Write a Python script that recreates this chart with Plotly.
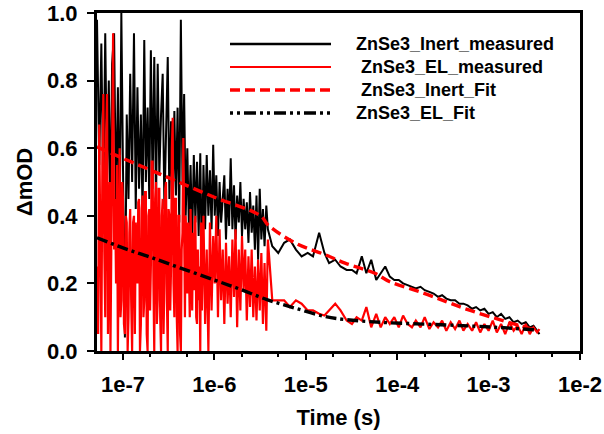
import plotly.graph_objects as go

# ---------------- data ----------------
# dense early-time region of the Inert measurement, times in ns
inert_dense_t_ns = [52, 55, 58, 61, 64, 67, 70, 73, 76, 80, 84, 88, 92, 96, 100, 105, 110, 115, 120, 126,
                    132, 138, 144, 150, 157, 164, 171, 178, 186, 194, 202, 211, 220, 230, 240, 250, 261,
                    272, 284, 296, 309, 322, 336, 350, 365, 380, 396, 413, 430, 448, 467, 486, 506, 527,
                    549, 572, 596, 620, 646, 673, 701, 730, 760, 792, 825, 860, 895, 932, 971, 1010, 1050,
                    1095, 1140, 1185, 1235, 1285, 1340, 1395, 1450, 1510, 1575, 1640, 1705, 1775, 1850,
                    1925, 2005, 2090, 2175, 2265, 2360, 2455, 2560, 2665, 2775, 2890, 3010, 3135, 3265,
                    3400, 3540, 3700, 3850]
inert_dense = [0.98, 0.55, 0.91, 0.45, 0.94, 0.50, 0.80, 0.38, 0.85, 0.94, 0.42, 0.78, 0.35, 1.00, 0.55,
               0.04, 0.70, 0.45, 0.82, 0.50, 0.94, 0.42, 0.78, 0.48, 0.70, 0.40, 0.92, 0.50, 0.72, 0.45,
               0.89, 0.48, 0.87, 0.44, 0.85, 0.52, 0.70, 0.82, 0.42, 0.66, 0.87, 0.45, 0.68, 0.40, 0.71,
               0.46, 0.72, 0.38, 0.98, 0.50, 0.76, 0.40, 0.60, 0.36, 0.55, 0.33, 0.58, 0.38, 0.56, 0.34,
               0.585, 0.25, 0.55, 0.36, 0.58, 0.40, 0.535, 0.36, 0.61, 0.40, 0.52, 0.34, 0.50, 0.38, 0.47,
               0.52, 0.33, 0.48, 0.37, 0.57, 0.36, 0.49, 0.33, 0.46, 0.38, 0.50, 0.34, 0.45, 0.36, 0.44,
               0.32, 0.47, 0.35, 0.43, 0.30, 0.46, 0.27, 0.48, 0.33, 0.42, 0.31, 0.43, 0.36]

# dense early-time region of the EL measurement, times in ns
el_dense_t_ns = [52, 53.5, 55, 56.5, 58, 59.5, 61, 62.5, 64, 65.5, 67, 68.5, 70, 71.5, 73, 74.5, 76, 78,
                 80, 82, 84, 86, 88, 90, 92, 94, 96, 98, 100, 102.5, 105, 107.5, 110, 112.5, 115, 117.5,
                 120, 123, 126, 129, 132, 135, 138, 141, 144, 147, 150, 153.5, 157, 160.5, 164, 167.5,
                 171, 174.5, 178, 182, 186, 190, 194, 198, 202, 206, 211, 215.5, 220, 225, 230, 235,
                 240, 245, 250, 255.5, 261, 266.5, 272, 278, 284, 290, 296, 302.5, 309, 315.5, 322, 329,
                 336, 343, 350, 357.5, 365, 372.5, 380, 388, 396, 404.5, 413, 421.5, 430, 439, 448,
                 457.5, 467, 476.5, 486, 496, 506, 516.5, 527, 538, 549, 560.5, 572, 584, 596, 608, 620,
                 633, 646, 659.5, 673, 687, 701, 715.5, 730, 760, 792, 825, 860, 895, 932, 971, 1010,
                 1050, 1095, 1140, 1185, 1235, 1285, 1340, 1395, 1450, 1510, 1575, 1640, 1705, 1775,
                 1850, 1925, 2005, 2090, 2175, 2265, 2360, 2455, 2560, 2665, 2775, 2890, 3010, 3135,
                 3265, 3400, 3540, 3700, 3850]
el_dense = [0.25, 0.05, 0.67, 0.20, 0.00, 0.55, 0.76, 0.30, 0.10, 0.62, 0.76, 0.05, 0.30, 0.50, 0.00,
            0.35, 0.55, 0.94, 0.30, 0.45, 0.20, 0.55, 0.00, 0.35, 0.60, 0.10, 0.15, 0.50, 0.45, 0.08,
            0.05, 0.40, 0.38, 0.00, 0.10, 0.35, 0.42, 0.15, 0.00, 0.38, 0.40, 0.05, 0.38, 0.25, 0.20,
            0.44, 0.45, 0.00, 0.08, 0.42, 0.46, 0.10, 0.15, 0.47, 0.47, 0.05, 0.00, 0.40, 0.42, 0.12,
            0.25, 0.56, 0.56, 0.20, 0.00, 0.45, 0.50, 0.08, 0.15, 0.48, 0.48, 0.10, 0.00, 0.40, 0.45,
            0.05, 0.20, 0.48, 0.50, 0.15, 0.00, 0.42, 0.40, 0.12, 0.25, 0.60, 0.69, 0.20, 0.10, 0.45,
            0.45, 0.10, 0.00, 0.40, 0.40, 0.05, 0.00, 0.30, 0.35, 0.63, 0.20, 0.10, 0.40, 0.30, 0.17,
            0.38, 0.22, 0.10, 0.42, 0.30, 0.12, 0.35, 0.18, 0.38, 0.40, 0.10, 0.08, 0.30, 0.15, 0.25,
            0.00, 0.38, 0.12, 0.40, 0.08, 0.30, 0.00, 0.38, 0.12, 0.34, 0.20, 0.40, 0.10, 0.36, 0.15,
            0.30, 0.08, 0.32, 0.14, 0.28, 0.10, 0.33, 0.16, 0.36, 0.07, 0.30, 0.12, 0.34, 0.18, 0.30,
            0.09, 0.28, 0.13, 0.30, 0.10, 0.25, 0.09, 0.27, 0.12, 0.29, 0.08, 0.26, 0.06, 0.33]

# late-time region, times in s
tail_t = [4.3e-6, 5e-6, 5.8e-6, 6.7e-6, 7.8e-6, 9e-6, 1.05e-5, 1.2e-5, 1.4e-5, 1.6e-5, 1.8e-5, 2.1e-5,
          2.4e-5, 2.8e-5, 3.2e-5, 3.6e-5, 4.1e-5, 4.6e-5, 5.2e-5, 5.9e-5, 6.6e-5, 7.4e-5, 8.3e-5,
          9.3e-5, 1.04e-4, 1.16e-4, 1.3e-4, 1.45e-4, 1.6e-4, 1.8e-4, 2.0e-4, 2.25e-4, 2.5e-4, 2.8e-4,
          3.1e-4, 3.45e-4, 3.85e-4, 4.3e-4, 4.8e-4, 5.3e-4, 5.9e-4, 6.6e-4, 7.3e-4, 8.1e-4, 9e-4,
          1.0e-3, 1.11e-3, 1.23e-3, 1.37e-3, 1.52e-3, 1.69e-3, 1.88e-3, 2.08e-3, 2.3e-3, 2.55e-3,
          2.82e-3, 3.1e-3, 3.4e-3, 3.6e-3]

inert_tail = [0.31, 0.29, 0.32, 0.33, 0.30, 0.28, 0.29, 0.28, 0.35, 0.29, 0.26, 0.27, 0.25, 0.24, 0.24,
              0.23, 0.28, 0.23, 0.27, 0.21, 0.23, 0.25, 0.22, 0.21, 0.21, 0.20, 0.195, 0.19, 0.185,
              0.19, 0.18, 0.175, 0.17, 0.16, 0.165, 0.155, 0.15, 0.15, 0.14, 0.14, 0.135, 0.125, 0.13,
              0.12, 0.125, 0.11, 0.115, 0.10, 0.11, 0.095, 0.10, 0.085, 0.09, 0.08, 0.085, 0.07, 0.075,
              0.06, 0.05]

el_tail = [0.15, 0.15, 0.15, 0.13, 0.15, 0.14, 0.12, 0.12, 0.11, 0.105, 0.12, 0.14, 0.12, 0.09, 0.08,
           0.10, 0.09, 0.13, 0.07, 0.11, 0.07, 0.10, 0.08, 0.10, 0.07, 0.105, 0.08, 0.07, 0.09, 0.07,
           0.10, 0.065, 0.085, 0.07, 0.09, 0.06, 0.085, 0.065, 0.09, 0.06, 0.08, 0.06, 0.085, 0.055,
           0.08, 0.06, 0.09, 0.055, 0.08, 0.05, 0.085, 0.06, 0.075, 0.05, 0.08, 0.05, 0.07, 0.055, 0.065]

# fits
inert_fit_t = [5.2e-8, 1e-7, 3e-7, 1e-6, 3.2e-6, 3.86e-6, 7.6e-6, 1.62e-5, 2.69e-5, 5.7e-5, 8.3e-5,
               1.78e-4, 3.5e-4, 6.3e-4, 1.24e-3, 2.2e-3, 3.4e-3]
inert_fit = [0.604, 0.57, 0.515, 0.455, 0.40, 0.373, 0.32, 0.285, 0.26, 0.23, 0.205, 0.175, 0.145,
             0.12, 0.095, 0.075, 0.06]

el_fit_t = [5.2e-8, 1e-7, 1.97e-7, 4.2e-7, 1.0e-6, 1.9e-6, 3.76e-6, 7.6e-6, 1.62e-5, 2.69e-5, 6.5e-5,
            3.5e-4, 1.24e-3, 3.4e-3]
el_fit = [0.335, 0.305, 0.278, 0.246, 0.21, 0.183, 0.152, 0.127, 0.102, 0.093, 0.085, 0.077, 0.07,
          0.062]

series_names = ["ZnSe3_Inert_measured", "ZnSe3_EL_measured", "ZnSe3_Inert_Fit", "ZnSe3_EL_Fit"]
x_tick_vals = [1e-7, 1e-6, 1e-5, 1e-4, 1e-3, 1e-2]
x_tick_text = ["1e-7", "1e-6", "1e-5", "1e-4", "1e-3", "1e-2"]
y_tick_vals = [0, 0.2, 0.4, 0.6, 0.8, 1.0]

# ---------------- figure ----------------
inert_t = [v * 1e-9 for v in inert_dense_t_ns] + tail_t
el_t = [v * 1e-9 for v in el_dense_t_ns] + tail_t
FONT = "Arial, 'Liberation Sans', sans-serif"

fig = go.Figure()
fig.add_trace(go.Scatter(x=inert_t, y=inert_dense + inert_tail, mode="lines",
                         line=dict(color="black", width=2.0), name=series_names[0]))
fig.add_trace(go.Scatter(x=el_t, y=el_dense + el_tail, mode="lines",
                         line=dict(color="#ff0000", width=2.2), name=series_names[1]))
fig.add_trace(go.Scatter(x=inert_fit_t, y=inert_fit, mode="lines", line_shape="spline",
                         line=dict(color="#ff0000", width=3.4, dash="10px,5px"), name=series_names[2]))
fig.add_trace(go.Scatter(x=el_fit_t, y=el_fit, mode="lines", line_shape="spline",
                         line=dict(color="black", width=3.4, dash="11px,4px,3px,4px"), name=series_names[3]))

# hand-made legend (long line samples as in the original)
L0, L1 = 230, 331
PX0, PX1, PY0, PY1 = 97, 580, 13, 351
def px(x):
    return (x - PX0) / (PX1 - PX0)
def py(y):
    return (PY1 - y) / (PY1 - PY0)

leg_rows = [
    (44, dict(color="black", width=2.6), 354),
    (67, dict(color="#ff0000", width=1.8), 359),
    (90, dict(color="#ff0000", width=3.4, dash="10px,5px"), 359),
    (113, dict(color="black", width=3.4, dash="3px,4px,3px,4px,12px,4px"), 354),
]
shapes = []
annotations = []
for (yy, ln, tx), name in zip(leg_rows, series_names):
    shapes.append(dict(type="line", xref="paper", yref="paper", x0=px(L0), x1=px(L1),
                       y0=py(yy), y1=py(yy), line=ln))
    annotations.append(dict(xref="paper", yref="paper", x=px(tx), y=py(yy), xanchor="left",
                            yanchor="middle", text=name, showarrow=False,
                            font=dict(family=FONT, size=18, color="black", weight="bold")))

fig.update_layout(
    width=604, height=434,
    margin=dict(l=PX0, r=604 - PX1, t=PY0, b=434 - PY1, autoexpand=False),
    paper_bgcolor="white", plot_bgcolor="white",
    showlegend=False,
    shapes=shapes, annotations=annotations,
    font=dict(family=FONT, color="black"),
)
fig.update_xaxes(
    type="log", range=[-7.284, -2],
    tickvals=x_tick_vals, ticktext=x_tick_text,
    ticks="outside", ticklen=6, tickwidth=2, tickcolor="black",
    minor=dict(ticks="outside", ticklen=3, tickwidth=1.5, tickcolor="black"),
    showline=True, linewidth=3, linecolor="black", mirror=True,
    showgrid=False, zeroline=False, ticklabelstandoff=6,
    tickfont=dict(family=FONT, size=22, color="black", weight="bold"),
    title=dict(text="Time (s)", standoff=14,
               font=dict(family=FONT, size=22, color="black", weight="bold")),
)
fig.update_yaxes(
    range=[0, 1], tickvals=y_tick_vals, tickformat=".1f",
    ticks="outside", ticklen=7, tickwidth=2, tickcolor="black",
    showline=True, linewidth=3, linecolor="black", mirror=True,
    showgrid=False, zeroline=False, ticklabelstandoff=5,
    tickfont=dict(family=FONT, size=22, color="black", weight="bold"),
    title=dict(text="ΔmOD", standoff=9,
               font=dict(family=FONT, size=22, color="black", weight="bold")),
)

fig.write_html("out.html", config={"displayModeBar": False},
               post_script="document.body.style.margin='0';")
